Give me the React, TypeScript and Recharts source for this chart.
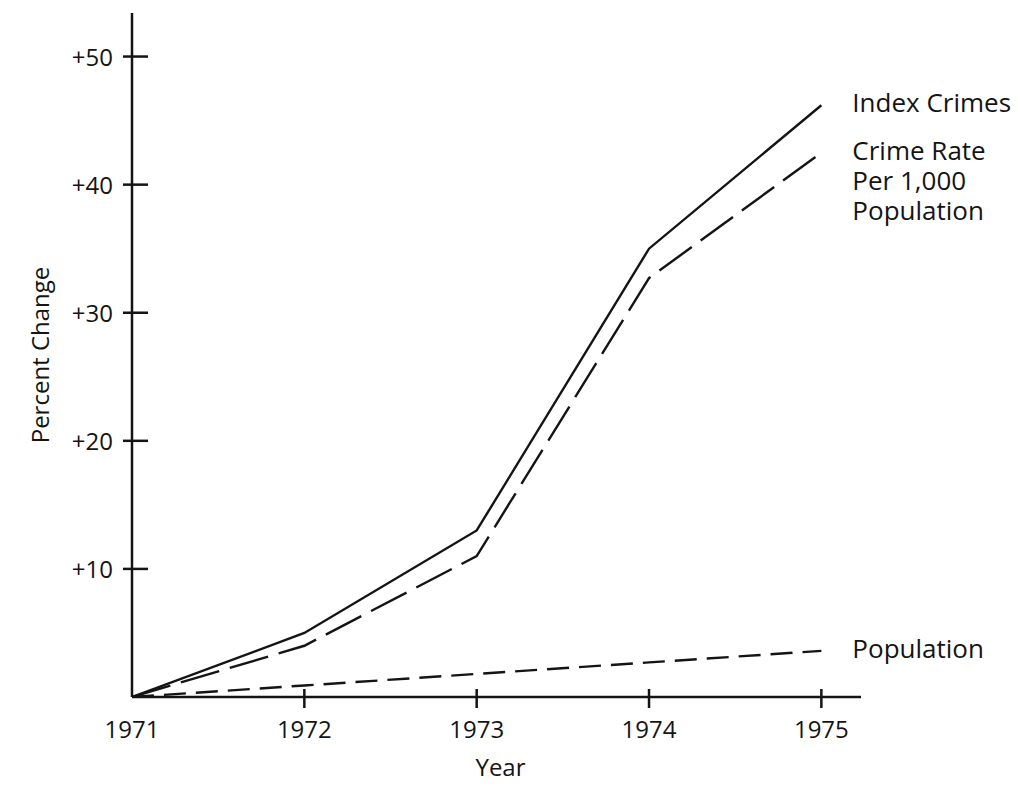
import React from 'react';
import { Label, Line, LineChart, XAxis, YAxis } from 'recharts';

const YEARS = [1971, 1972, 1973, 1974, 1975];
const INDEX_CRIMES = [0, 5.0, 13.0, 35.0, 46.2];
const CRIME_RATE = [0, 4.0, 11.0, 32.7, 42.5];
const POPULATION = [0, 0.9, 1.8, 2.7, 3.6];
const PERCENT_TICKS = [10, 20, 30, 40, 50];

const INK = '#141414';
const FONT = '"Open Sans", "DejaVu Sans", sans-serif';

const data = YEARS.map((year, i) => ({
  year,
  indexCrimes: INDEX_CRIMES[i],
  crimeRate: CRIME_RATE[i],
  population: POPULATION[i],
}));

// tick marks cross the axis in the original, so draw them ourselves
// eslint-disable-next-line @typescript-eslint/no-explicit-any
function PercentTick({ x, y, payload }: any) {
  return (
    <g>
      <line x1={x - 9} x2={x + 16} y1={y} y2={y} stroke={INK} strokeWidth={2.5} />
      <text x={x - 19} y={y} textAnchor="end" dominantBaseline="central" fontSize={24} fontFamily={FONT} fill={INK}>
        +{payload.value}
      </text>
    </g>
  );
}

// eslint-disable-next-line @typescript-eslint/no-explicit-any
function YearTick({ x, y, payload }: any) {
  return (
    <g>
      {payload.value !== YEARS[0] ? (
        <line x1={x} x2={x} y1={y - 8} y2={y + 11} stroke={INK} strokeWidth={2.5} />
      ) : null}
      <text x={x} y={y + 31} textAnchor="middle" dominantBaseline="central" fontSize={24} fontFamily={FONT} fill={INK}>
        {payload.value}
      </text>
    </g>
  );
}

function endLabel(lines: string[]) {
  // eslint-disable-next-line @typescript-eslint/no-explicit-any
  return (props: any) => {
    if (props.index !== YEARS.length - 1) return null;
    return (
      <text
        x={props.x + 31}
        y={props.y - 3}
        dominantBaseline="central"
        fontSize={26}
        fontFamily={FONT}
        fill={INK}
      >
        {lines.map((line, i) => (
          <tspan key={line} x={props.x + 31} dy={i === 0 ? 0 : 30}>
            {line}
          </tspan>
        ))}
      </text>
    );
  };
}

export default function App() {
  return (
    <div style={{ position: 'absolute', left: 0, top: 0, width: 1027, height: 793, background: '#fff' }}>
      <LineChart width={1027} height={793} data={data} margin={{ top: 13, right: 166, bottom: 0, left: 0 }}>
        <XAxis
          type="number"
          dataKey="year"
          domain={[1971, 1975.23]}
          ticks={YEARS}
          allowDataOverflow
          height={96}
          axisLine={{ stroke: INK, strokeWidth: 2.5 }}
          tickLine={false}
          tickSize={0}
          tickMargin={0}
          tick={<YearTick />}
        >
          <Label
            content={({ viewBox }: any) => (
              <text
                x={viewBox.x + viewBox.width / 2 + 4}
                y={viewBox.y + 69}
                textAnchor="middle"
                dominantBaseline="central"
                fontSize={24}
                fontFamily={FONT}
                fill={INK}
              >
                Year
              </text>
            )}
          />
        </XAxis>
        <YAxis
          type="number"
          domain={[0, 53.4]}
          ticks={PERCENT_TICKS}
          allowDataOverflow
          width={132}
          axisLine={{ stroke: INK, strokeWidth: 2.5 }}
          tickLine={false}
          tickSize={0}
          tickMargin={0}
          tick={<PercentTick />}
        >
          <Label
            content={({ viewBox }: any) => {
              const cx = viewBox.x + 39;
              const cy = viewBox.y + viewBox.height / 2;
              return (
                <text
                  x={cx}
                  y={cy}
                  transform={`rotate(-90 ${cx} ${cy})`}
                  textAnchor="middle"
                  dominantBaseline="central"
                  fontSize={24}
                  fontFamily={FONT}
                  fill={INK}
                >
                  Percent Change
                </text>
              );
            }}
          />
        </YAxis>
        <Line
          type="linear"
          dataKey="indexCrimes"
          stroke={INK}
          strokeWidth={2.4}
          dot={false}
          activeDot={false}
          isAnimationActive={false}
          label={endLabel(['Index Crimes'])}
        />
        <Line
          type="linear"
          dataKey="crimeRate"
          stroke={INK}
          strokeWidth={2.4}
          strokeDasharray="40 11"
          dot={false}
          activeDot={false}
          isAnimationActive={false}
          label={endLabel(['Crime Rate', 'Per 1,000', 'Population'])}
        />
        <Line
          type="linear"
          dataKey="population"
          stroke={INK}
          strokeWidth={2.4}
          strokeDasharray="22 10"
          dot={false}
          activeDot={false}
          isAnimationActive={false}
          label={endLabel(['Population'])}
        />
      </LineChart>
    </div>
  );
}
